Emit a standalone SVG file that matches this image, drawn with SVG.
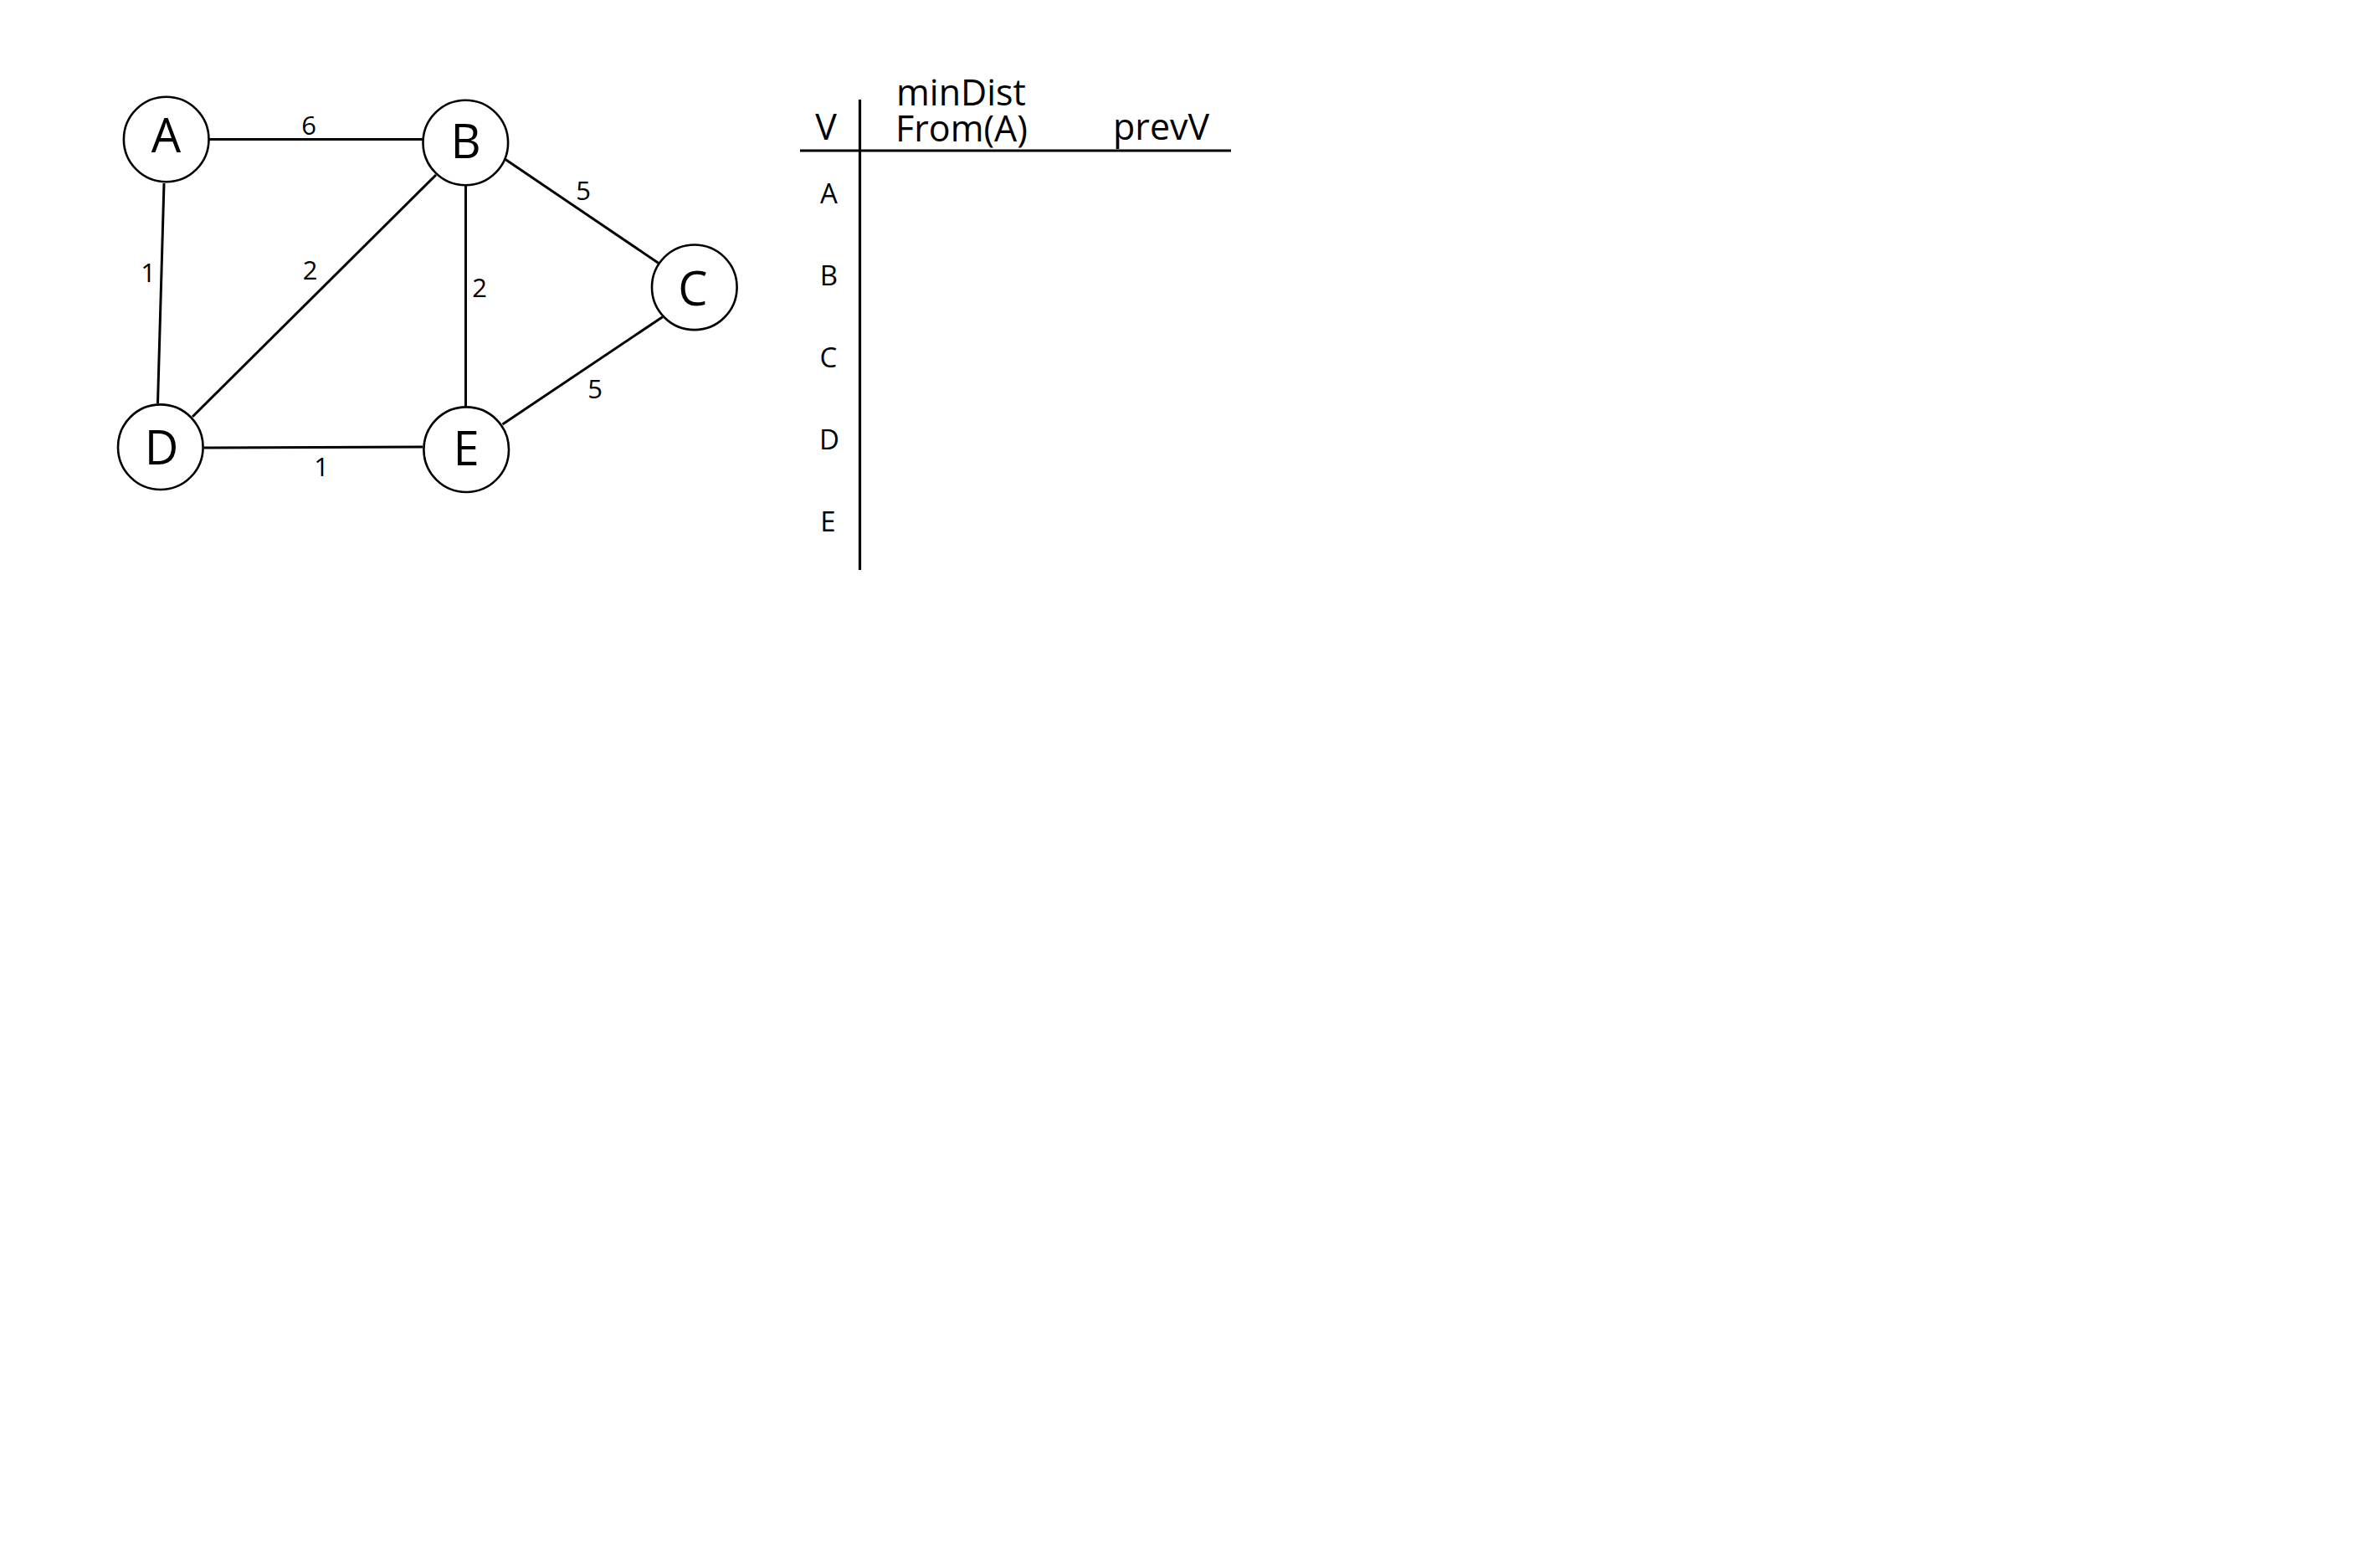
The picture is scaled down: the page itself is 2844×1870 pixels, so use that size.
<svg xmlns="http://www.w3.org/2000/svg" width="2844" height="1870" viewBox="0 0 2844 1870">
<style>
.bg{fill:#fff}
.node circle{fill:#fff;stroke:#000;stroke-width:2.6}
.node text{font-family:"Open Sans","Liberation Sans",sans-serif;font-size:56px;text-anchor:middle;fill:#000}
.edges line{stroke:#000;stroke-width:3;stroke-linecap:butt}
.lbl{font-family:"Open Sans","Liberation Sans",sans-serif;font-size:31px;text-anchor:middle;fill:#000}
.tbl line{stroke:#000;stroke-width:3.2}
.hdr{font-family:"Open Sans","Liberation Sans",sans-serif;font-size:43px;fill:#000}
.row{font-family:"Open Sans","Liberation Sans",sans-serif;font-size:33px;text-anchor:middle;fill:#000}
</style>
<rect class="bg" x="0" y="0" width="2844" height="1870"/>
<g id="edges" class="edges">
<line x1="250" y1="166.5" x2="505" y2="166.5"/>
<line x1="196" y1="219" x2="188.5" y2="482"/>
<line x1="521" y1="209" x2="230" y2="498"/>
<line x1="556.5" y1="222" x2="556.5" y2="485"/>
<line x1="604" y1="190.5" x2="787" y2="314.5"/>
<line x1="792" y1="378.5" x2="600.5" y2="507"/>
<line x1="244" y1="535" x2="505" y2="534"/>
</g>
<g id="edge-labels">
<text class="lbl" x="369" y="160.5">6</text>
<text class="lbl" x="177" y="336.5">1</text>
<text class="lbl" x="370.5" y="334">2</text>
<text class="lbl" x="573" y="355">2</text>
<text class="lbl" x="697" y="239">5</text>
<text class="lbl" x="711" y="476">5</text>
<text class="lbl" x="384" y="568.5">1</text>
</g>
<g id="node-A" class="node"><circle cx="198.7" cy="166.5" r="50.8"/><text x="198.5" y="181.7">A</text></g>
<g id="node-B" class="node"><circle cx="556.3" cy="170.5" r="50.8"/><text x="556.5" y="189.3">B</text></g>
<g id="node-C" class="node"><circle cx="829.8" cy="343.3" r="50.8"/><text x="828" y="365">C</text></g>
<g id="node-D" class="node"><circle cx="191.8" cy="534.2" r="50.8"/><text x="193" y="555">D</text></g>
<g id="node-E" class="node"><circle cx="557.2" cy="537.2" r="50.8"/><text x="557" y="556">E</text></g>
<g id="table" class="tbl">
<line x1="1027.5" y1="119" x2="1027.5" y2="681"/>
<line x1="956" y1="180" x2="1471" y2="180"/>
<text class="hdr" x="987" y="166.7" text-anchor="middle">V</text>
<text class="hdr" x="1071" y="125.7">minDist</text>
<text class="hdr" x="1070" y="169">From(A)</text>
<text class="hdr" x="1330" y="166.7">prevV</text>
<text class="row" x="990.5" y="243">A</text>
<text class="row" x="990.5" y="340.7">B</text>
<text class="row" x="990" y="438.7">C</text>
<text class="row" x="991" y="536.7">D</text>
<text class="row" x="989.5" y="634.7">E</text>
</g>
</svg>
